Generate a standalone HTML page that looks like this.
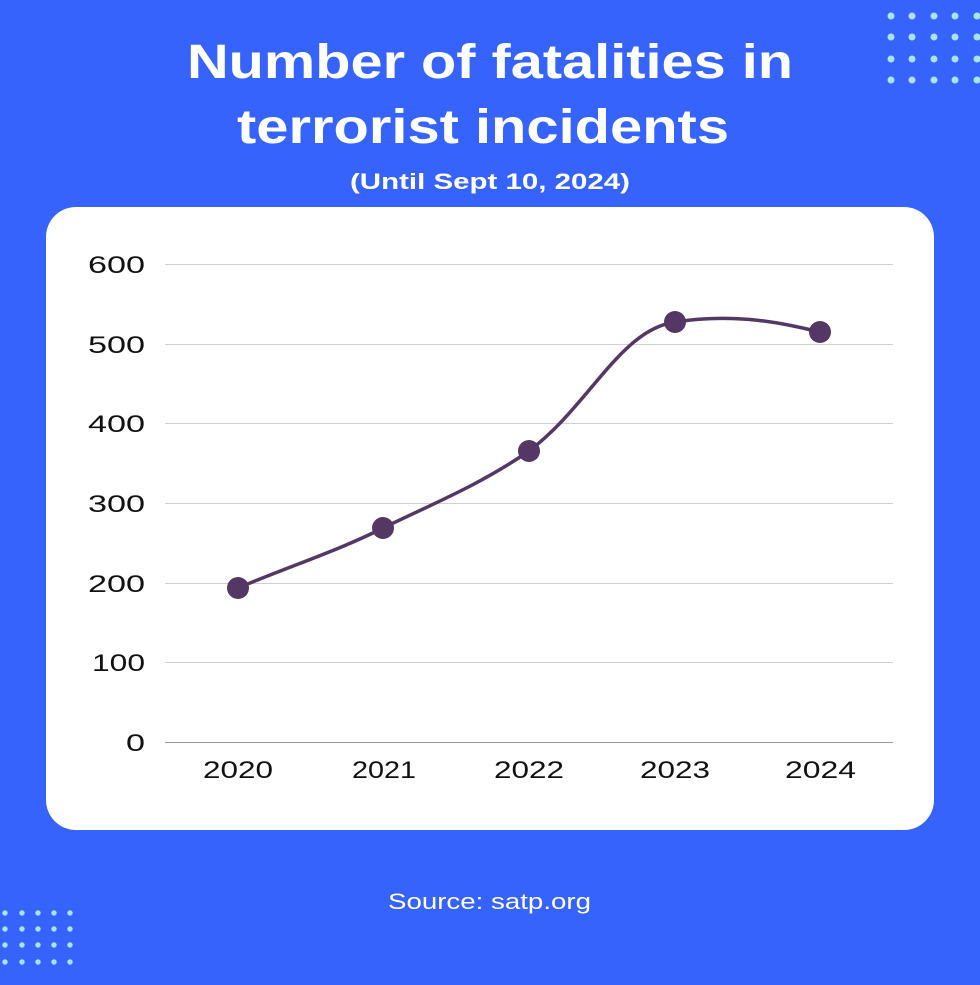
<!DOCTYPE html>
<html><head><meta charset="utf-8"><style>
body{margin:0;width:980px;height:980px;background:#3663fc;overflow:hidden;font-family:"Liberation Sans",sans-serif}
</style></head><body>
<svg width="980" height="980" xmlns="http://www.w3.org/2000/svg">
<rect width="980" height="980" fill="#3663fc"/>
<g fill="#a9e4ea">
<circle cx="891" cy="16" r="3.5"/><circle cx="912" cy="16" r="3.5"/><circle cx="934" cy="16" r="3.5"/><circle cx="955" cy="16" r="3.5"/><circle cx="977" cy="16" r="3.5"/>
<circle cx="891" cy="37" r="3.5"/><circle cx="912" cy="37" r="3.5"/><circle cx="934" cy="37" r="3.5"/><circle cx="955" cy="37" r="3.5"/><circle cx="977" cy="37" r="3.5"/>
<circle cx="891" cy="59" r="3.5"/><circle cx="912" cy="59" r="3.5"/><circle cx="934" cy="59" r="3.5"/><circle cx="955" cy="59" r="3.5"/><circle cx="977" cy="59" r="3.5"/>
<circle cx="891" cy="80" r="3.5"/><circle cx="912" cy="80" r="3.5"/><circle cx="934" cy="80" r="3.5"/><circle cx="955" cy="80" r="3.5"/><circle cx="977" cy="80" r="3.5"/>
<circle cx="5" cy="913" r="2.7"/><circle cx="22" cy="913" r="2.7"/><circle cx="38" cy="913" r="2.7"/><circle cx="54" cy="913" r="2.7"/><circle cx="70" cy="913" r="2.7"/>
<circle cx="5" cy="929" r="2.7"/><circle cx="22" cy="929" r="2.7"/><circle cx="38" cy="929" r="2.7"/><circle cx="54" cy="929" r="2.7"/><circle cx="70" cy="929" r="2.7"/>
<circle cx="5" cy="945" r="2.7"/><circle cx="22" cy="945" r="2.7"/><circle cx="38" cy="945" r="2.7"/><circle cx="54" cy="945" r="2.7"/><circle cx="70" cy="945" r="2.7"/>
<circle cx="5" cy="962" r="2.7"/><circle cx="22" cy="962" r="2.7"/><circle cx="38" cy="962" r="2.7"/><circle cx="54" cy="962" r="2.7"/><circle cx="70" cy="962" r="2.7"/>
</g>
<g fill="#fff" font-weight="bold">
<text x="187" y="78" font-size="48" textLength="606" lengthAdjust="spacingAndGlyphs">Number of fatalities in</text>
<text x="237" y="143" font-size="48" textLength="492" lengthAdjust="spacingAndGlyphs">terrorist incidents</text>
<text x="350" y="189" font-size="22" textLength="280" lengthAdjust="spacingAndGlyphs">(Until Sept 10, 2024)</text>
</g>
<rect x="46" y="207" width="888" height="623" rx="30" fill="#fff"/>
<g stroke="#d0d0d0" stroke-width="1">
<line x1="165" x2="893" y1="264.5" y2="264.5"/><line x1="165" x2="893" y1="344.5" y2="344.5"/><line x1="165" x2="893" y1="423.5" y2="423.5"/><line x1="165" x2="893" y1="503.5" y2="503.5"/><line x1="165" x2="893" y1="583.5" y2="583.5"/><line x1="165" x2="893" y1="662.5" y2="662.5"/>
</g>
<line x1="165" x2="893" y1="742.5" y2="742.5" stroke="#999"/>
<g font-size="24" fill="#111">
<text x="88" y="273" textLength="57" lengthAdjust="spacingAndGlyphs">600</text>
<text x="88" y="353" textLength="57" lengthAdjust="spacingAndGlyphs">500</text>
<text x="88" y="432" textLength="57" lengthAdjust="spacingAndGlyphs">400</text>
<text x="88" y="512" textLength="57" lengthAdjust="spacingAndGlyphs">300</text>
<text x="88" y="592" textLength="57" lengthAdjust="spacingAndGlyphs">200</text>
<text x="92" y="671" textLength="53" lengthAdjust="spacingAndGlyphs">100</text>
<text x="126" y="751" textLength="19" lengthAdjust="spacingAndGlyphs">0</text>
</g>
<g font-size="24" fill="#111">
<text x="203" y="778" textLength="70" lengthAdjust="spacingAndGlyphs">2020</text>
<text x="352" y="778" textLength="64" lengthAdjust="spacingAndGlyphs">2021</text>
<text x="494" y="778" textLength="70" lengthAdjust="spacingAndGlyphs">2022</text>
<text x="640" y="778" textLength="70" lengthAdjust="spacingAndGlyphs">2023</text>
<text x="785" y="778" textLength="71" lengthAdjust="spacingAndGlyphs">2024</text>
</g>
<path d="M238,588 C290,566 340,550 383,528 C430,505 480,485 529,451 C590,405 620,330 675,322 C740,312 790,325 820,332" fill="none" stroke="#553766" stroke-width="3.5"/>
<g fill="#553766">
<circle cx="238" cy="588" r="11"/><circle cx="383" cy="528" r="11"/><circle cx="529" cy="451" r="11"/><circle cx="675" cy="322" r="11"/><circle cx="820" cy="332" r="11"/>
</g>
<text x="388" y="909" font-size="22" fill="#fff" textLength="203" lengthAdjust="spacingAndGlyphs">Source: satp.org</text>
</svg>
</body></html>
